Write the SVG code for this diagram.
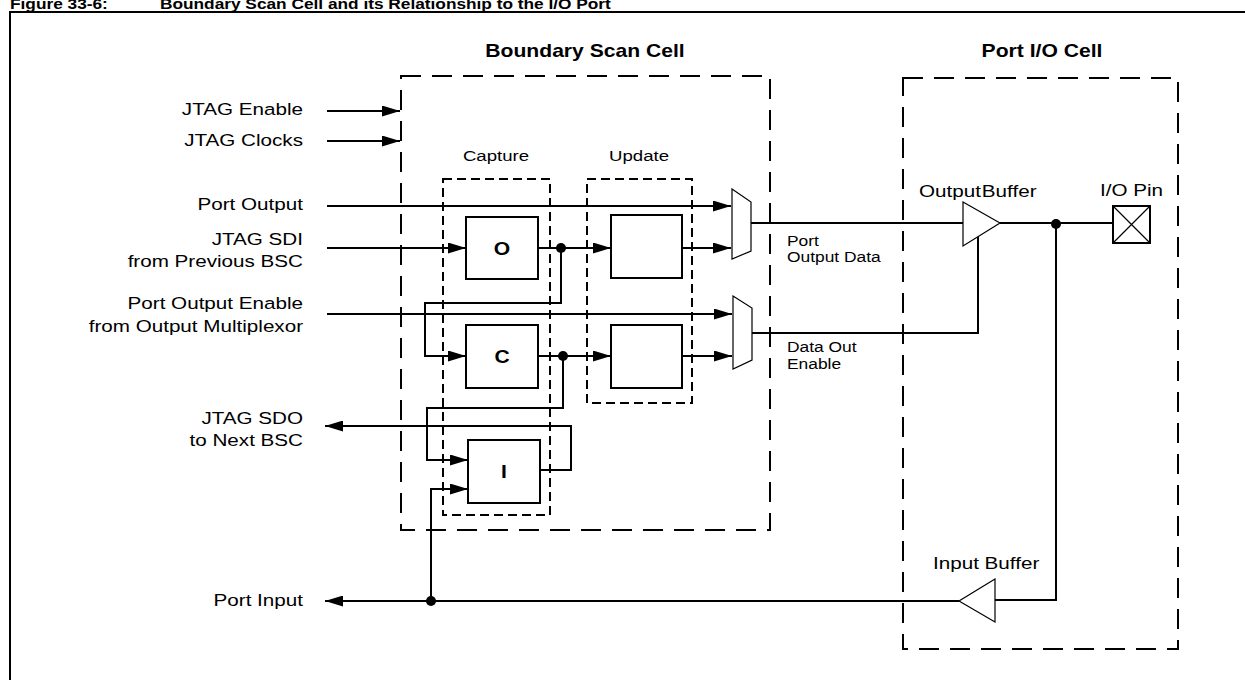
<svg xmlns="http://www.w3.org/2000/svg" width="1245" height="680" viewBox="0 0 1245 680">
<style>
  .t { font-family: "Liberation Sans", Arial, sans-serif; font-size: 17.2px; fill: #000; }
  .s { font-family: "Liberation Sans", Arial, sans-serif; font-size: 14.5px; fill: #000; }
  .c { font-family: "Liberation Sans", Arial, sans-serif; font-size: 15.5px; fill: #000; }
  .h { font-family: "Liberation Sans", Arial, sans-serif; font-size: 17.6px; font-weight: bold; fill: #000; }
  .ti { font-family: "Liberation Sans", Arial, sans-serif; font-size: 14.4px; font-weight: bold; fill: #000; }
  .b { font-family: "Liberation Sans", Arial, sans-serif; font-size: 17.6px; font-weight: bold; fill: #000; text-anchor: middle; }
  .end { text-anchor: end; }
  .mid { text-anchor: middle; }
  .box { fill: #fff; stroke: #000; stroke-width: 2; }
  .thin { fill: #fff; stroke: #000; stroke-width: 1.2; }
  .dl { fill: none; stroke: #000; stroke-width: 2; stroke-dasharray: 20 11; }
  .ds { fill: none; stroke: #000; stroke-width: 2; stroke-dasharray: 9 5; }
  .w { fill: none; stroke: #000; stroke-width: 2; }
  .a { fill: none; stroke: #000; stroke-width: 2; marker-end: url(#arr); }
  .dot { fill: #000; }
</style>
<defs>
  <marker id="arr" markerUnits="userSpaceOnUse" markerWidth="18" markerHeight="11" refX="18" refY="5.5" orient="auto">
    <path d="M0,0 L18,5.5 L0,11 Z" fill="#000"/>
  </marker>
</defs>
<rect width="1245" height="680" fill="#fff"/>

<!-- title (cropped at top) -->
<g id="title">
  <text class="ti" transform="translate(10,9) scale(1.2,1)">Figure 33-6:</text>
  <text class="ti" transform="translate(160,9) scale(1.2,1)">Boundary Scan Cell and its Relationship to the I/O Port</text>
</g>

<!-- outer frame -->
<rect x="10" y="12" width="1260" height="700" fill="none" stroke="#000" stroke-width="2"/>

<!-- Boundary Scan Cell -->
<g id="bsc">
  <rect class="dl" x="401" y="76" width="369" height="454"/>
  <text class="b" transform="translate(585,57) scale(1.2,1)">Boundary Scan Cell</text>
</g>

<g id="capture">
  <rect class="ds" x="443" y="179" width="107" height="336"/>
  <text class="c mid" transform="translate(496,161) scale(1.2,1)">Capture</text>
</g>

<g id="update">
  <rect class="ds" x="587" y="179" width="105" height="224"/>
  <text class="c mid" transform="translate(639,161) scale(1.2,1)">Update</text>
</g>

<g id="port-io-cell">
  <rect class="dl" x="903" y="78" width="275" height="571"/>
  <text class="b" transform="translate(1042,57) scale(1.2,1)">Port I/O Cell</text>
</g>

<!-- connectors -->
<g id="connectors">
  <path class="a" d="M327,111 H400"/>
  <path class="a" d="M327,141 H400"/>
  <path class="a" d="M327,206 H731"/>
  <path class="a" d="M327,248 H466"/>
  <path class="a" d="M538,248 H611"/>
  <path class="a" d="M561,248 V303 H425 V356 H466"/>
  <path class="a" d="M327,314 H732"/>
  <path class="a" d="M538,356 H611"/>
  <path class="a" d="M563,356 V408 H427 V460 H468"/>
  <path class="a" d="M540,470 H571 V426 H325"/>
  <path class="a" d="M959,601 H325"/>
  <path class="a" d="M431,601 V489 H468"/>
  <path class="a" d="M682,248 H731"/>
  <path class="a" d="M682,356 H732"/>
  <path class="w" d="M751,223 H963"/>
  <path class="w" d="M752,333 H978 V237"/>
  <path class="w" d="M1000,223 H1113"/>
  <path class="w" d="M1056,224 V600 H995"/>
  <circle class="dot" cx="561" cy="248" r="5"/>
  <circle class="dot" cx="563" cy="356" r="5"/>
  <circle class="dot" cx="431" cy="601" r="5"/>
  <circle class="dot" cx="1056" cy="224" r="5"/>
</g>

<!-- capture registers -->
<g id="reg-o">
  <rect class="box" x="466" y="217" width="72" height="62"/>
  <text class="b" transform="translate(502,255) scale(1.2,1)">O</text>
</g>
<g id="reg-c">
  <rect class="box" x="466" y="325" width="72" height="63"/>
  <text class="b" transform="translate(502,363) scale(1.2,1)">C</text>
</g>
<g id="reg-i">
  <rect class="box" x="468" y="440" width="72" height="63"/>
  <text class="b" transform="translate(504,478) scale(1.2,1)">I</text>
</g>

<!-- update registers -->
<g id="upd-o"><rect class="box" x="611" y="215" width="71" height="63"/></g>
<g id="upd-c"><rect class="box" x="611" y="325" width="71" height="63"/></g>

<!-- multiplexers -->
<g id="mux-data"><path class="thin" d="M732,189 L751,202 L751,251 L732,259 Z"/></g>
<g id="mux-enable"><path class="thin" d="M733,296 L752,308 L752,360 L733,369 Z"/></g>

<g id="mux-labels">
  <text class="s" transform="translate(787,246) scale(1.2,1)">Port</text>
  <text class="s" transform="translate(787,262) scale(1.2,1)">Output Data</text>
  <text class="s" transform="translate(787,352) scale(1.2,1)">Data Out</text>
  <text class="s" transform="translate(787,369) scale(1.2,1)">Enable</text>
</g>

<!-- buffers -->
<g id="output-buffer">
  <path class="thin" d="M963,202 L1000,223 L963,246 Z"/>
  <text class="t" style="word-spacing:-4px" transform="translate(919,197) scale(1.2,1)">Output Buffer</text>
</g>
<g id="input-buffer">
  <path class="thin" d="M995,579 L959,601 L995,622 Z"/>
  <text class="t" transform="translate(933,569) scale(1.2,1)">Input Buffer</text>
</g>

<g id="io-pin">
  <rect class="box" x="1113" y="206" width="37" height="37"/>
  <path d="M1113,206 L1150,243 M1150,206 L1113,243" stroke="#000" stroke-width="1.2"/>
  <text class="t" transform="translate(1100,196) scale(1.2,1)">I/O Pin</text>
</g>

<!-- left signal labels -->
<g id="left-labels">
  <text class="t end" transform="translate(303,115) scale(1.2,1)">JTAG Enable</text>
  <text class="t end" transform="translate(303,146) scale(1.2,1)">JTAG Clocks</text>
  <text class="t end" transform="translate(303,210) scale(1.2,1)">Port Output</text>
  <text class="t end" transform="translate(303,245) scale(1.2,1)">JTAG SDI</text>
  <text class="t end" transform="translate(303,267) scale(1.2,1)">from Previous BSC</text>
  <text class="t end" transform="translate(303,309) scale(1.2,1)">Port Output Enable</text>
  <text class="t end" transform="translate(303,332) scale(1.2,1)">from Output Multiplexor</text>
  <text class="t end" transform="translate(303,424) scale(1.2,1)">JTAG SDO</text>
  <text class="t end" transform="translate(303,446) scale(1.2,1)">to Next BSC</text>
  <text class="t end" transform="translate(303,606) scale(1.2,1)">Port Input</text>
</g>
</svg>
